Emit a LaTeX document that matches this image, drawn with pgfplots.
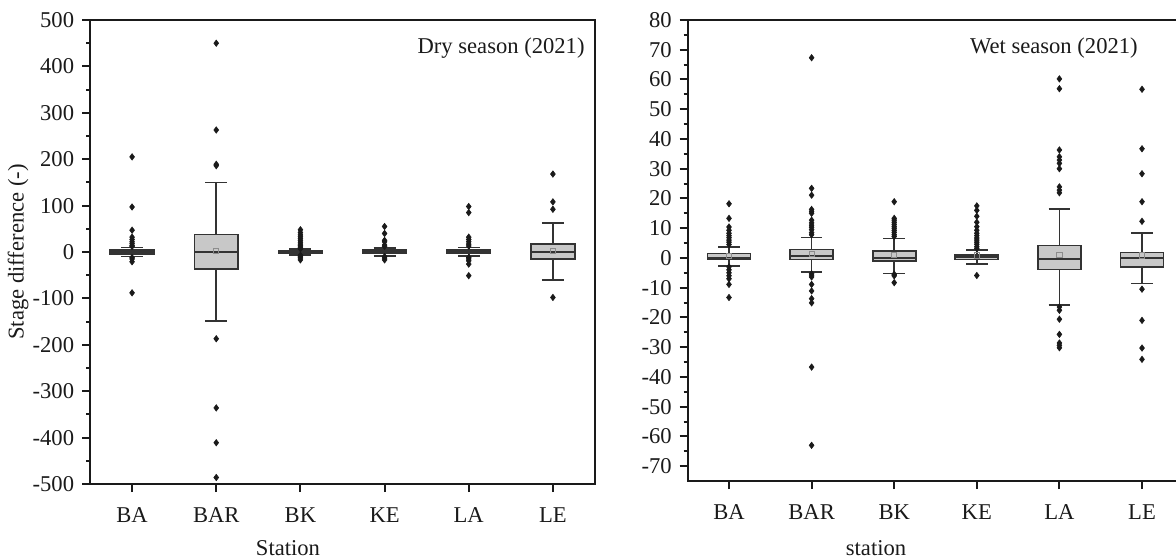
\documentclass[border=0pt]{standalone}
\usepackage{fontspec}
\setmainfont{Liberation Serif}
\usepackage{pgfplots}
\pgfplotsset{compat=1.18}
\usepgfplotslibrary{statistics}
\definecolor{boxfill}{HTML}{C8C8C8}
\definecolor{boxedge}{HTML}{333333}
\definecolor{outk}{HTML}{1A1A1A}
\definecolor{meangray}{HTML}{8C8C8C}
\pgfplotsset{
  panel/.style={
    scale only axis,
    anchor=south west,
    xmin=-0.5, xmax=5.5,
    xtick={0,1,2,3,4,5},
    xticklabels={BA,BAR,BK,KE,LA,LE},
    xtick pos=bottom, ytick pos=left,
    tick align=outside,
    major tick length=4pt, minor tick length=2pt,
    tick style={line width=1pt, color=outk},
    minor y tick num=1,
    axis line style={line width=1pt, color=outk},
    /pgf/number format/assume math mode=true,
    yticklabel style={/pgf/number format/fixed, color=outk},
    xticklabel style={yshift=-4pt, color=outk},
    label style={color=outk},
  },
  bx/.style={
    boxplot/draw direction=y,
    boxplot prepared={#1, box extend=0.52, whisker extend=0.26},
    boxplot/every box/.style={fill=boxfill, draw=boxedge, line width=0.85pt},
    boxplot/every median/.style={draw=boxedge, line width=0.85pt},
    boxplot/every whisker/.style={draw=boxedge, line width=0.85pt},
    mark=diamond*, mark size=1.6pt, mark options={fill=outk, draw=outk, line width=0.3pt},
  },
  meanmk/.style={only marks, mark=square, mark size=1.3pt, mark options={draw=meangray, fill=none, line width=0.5pt}},
}
\begin{document}
\fontsize{11.3pt}{13.5pt}\selectfont
\begin{tikzpicture}
\useasboundingbox (0,0) rectangle (588pt,-280pt);
% ---------------- Dry season ----------------
\begin{axis}[panel,
  at={(45pt,-242pt)}, width=252.5pt, height=232pt,
  ymin=-500, ymax=500, ytick={-500,-400,...,500},
  xlabel={Station}, ylabel={Stage difference (-)},
  xlabel style={at={(axis description cs:0.392,-0.138)}, anchor=center},
  ylabel style={at={(axis description cs:-0.1426,0.5)}, anchor=center},
]
\addplot[bx={draw position=0, lower whisker=-10, lower quartile=-4, median=0, upper quartile=4, upper whisker=10}]
  table[row sep=\\, x expr=0, y index=0] {v\\ 205\\ 97\\ 47\\ 32\\ 27\\ 22\\ 18\\ 14\\ 12\\ -12\\ -15\\ -21\\ -88\\};
\addplot[bx={draw position=1, lower whisker=-149, lower quartile=-37, median=0, upper quartile=38, upper whisker=150}]
  table[row sep=\\, x expr=1, y index=0] {v\\ 450\\ 263\\ 189\\ 186\\ -187\\ -336\\ -411\\ -486\\};
\addplot[bx={draw position=2, lower whisker=-6, lower quartile=-2, median=0, upper quartile=2, upper whisker=6}]
  table[row sep=\\, x expr=2, y index=0] {v\\ 48\\ 42\\ 37\\ 33\\ 29\\ 25\\ 21\\ 17\\ 14\\ 11\\ 9\\ 7\\ -7\\ -9\\ -11\\ -13\\ -17\\};
\addplot[bx={draw position=3, lower whisker=-8, lower quartile=-3, median=0, upper quartile=4, upper whisker=9}]
  table[row sep=\\, x expr=3, y index=0] {v\\ 55\\ 40\\ 25\\ 22\\ 15\\ 12\\ -10\\ -13\\ -17\\};
\addplot[bx={draw position=4, lower whisker=-9, lower quartile=-3, median=0, upper quartile=5, upper whisker=10}]
  table[row sep=\\, x expr=4, y index=0] {v\\ 98\\ 85\\ 32\\ 27\\ 22\\ 17\\ 13\\ -12\\ -15\\ -19\\ -26\\ -51\\};
\addplot[bx={draw position=5, lower whisker=-60, lower quartile=-15, median=0, upper quartile=17, upper whisker=62}]
  table[row sep=\\, x expr=5, y index=0] {v\\ 168\\ 108\\ 92\\ -98\\};
\addplot[meanmk] coordinates {(1,3) (5,3)};
\node[anchor=north east, inner sep=0pt, color=outk] at ([xshift=-5pt,yshift=-8.5pt]axis description cs:1,1) {Dry season (2021)};
\end{axis}
% ---------------- Wet season ----------------
\begin{axis}[panel,
  at={(343.85pt,-240.5pt)}, width=247.8pt, height=230.5pt,
  ymin=-75, ymax=80, ytick={-70,-60,...,80},
  xlabel={station},
  xlabel style={at={(axis description cs:0.38,-0.145)}, anchor=center},
]
\addplot[bx={draw position=0, lower whisker=-2.7, lower quartile=-0.3, median=0, upper quartile=1.5, upper whisker=3.6}]
  table[row sep=\\, x expr=0, y index=0] {v\\ 18.2\\ 13.3\\ 10.4\\ 9.3\\ 8.3\\ 7.5\\ 6.8\\ 6\\ 5.3\\ 4.5\\ -3\\ -4\\ -5\\ -6\\ -7\\ -8.9\\ -13.3\\};
\addplot[bx={draw position=1, lower whisker=-4.7, lower quartile=-0.5, median=0.6, upper quartile=2.8, upper whisker=6.9}]
  table[row sep=\\, x expr=1, y index=0] {v\\ 67.3\\ 23.4\\ 21.1\\ 16.3\\ 15.6\\ 15\\ 12.7\\ 11.8\\ 11\\ 10.3\\ 9.5\\ 8.5\\ 7.8\\ -5.3\\ -5.8\\ -6.4\\ -8.9\\ -11.1\\ -13.7\\ -15.1\\ -36.7\\ -63\\};
\addplot[bx={draw position=2, lower whisker=-5.2, lower quartile=-1.0, median=0, upper quartile=2.4, upper whisker=6.5}]
  table[row sep=\\, x expr=2, y index=0] {v\\ 18.9\\ 13.3\\ 12.7\\ 12\\ 11.3\\ 10.6\\ 10\\ 9.3\\ 8.6\\ 7.8\\ 7.2\\ -5.5\\ -6\\ -8.3\\};
\addplot[bx={draw position=3, lower whisker=-2.1, lower quartile=-0.5, median=0.3, upper quartile=0.9, upper whisker=2.6}]
  table[row sep=\\, x expr=3, y index=0] {v\\ 17.5\\ 16\\ 14\\ 12\\ 10.5\\ 9.3\\ 8.3\\ 7.5\\ 6.7\\ 6\\ 5.3\\ 4.6\\ 3.8\\ 3.2\\ -5.9\\};
\addplot[bx={draw position=4, lower whisker=-15.9, lower quartile=-3.9, median=-0.3, upper quartile=4.2, upper whisker=16.5}]
  table[row sep=\\, x expr=4, y index=0] {v\\ 60.2\\ 56.9\\ 36.3\\ 34\\ 32.9\\ 31.8\\ 30\\ 23.9\\ 22.8\\ 21.9\\ -16.5\\ -17.6\\ -20.6\\ -25.7\\ -28.6\\ -29.4\\ -30.2\\};
\addplot[bx={draw position=5, lower whisker=-8.6, lower quartile=-3, median=0, upper quartile=1.8, upper whisker=8.4}]
  table[row sep=\\, x expr=5, y index=0] {v\\ 56.7\\ 36.7\\ 28.3\\ 18.9\\ 12.3\\ -10.5\\ -21\\ -30.3\\ -34.1\\};
\addplot[meanmk] coordinates {(0,0.7) (1,1.2) (2,0.9) (3,0.8) (4,0.9) (5,0.8)};
\node[anchor=north east, inner sep=0pt, color=outk] at ([xshift=-22.6pt,yshift=-8.5pt]axis description cs:1,1) {Wet season (2021)};
\end{axis}
\end{tikzpicture}
\end{document}
